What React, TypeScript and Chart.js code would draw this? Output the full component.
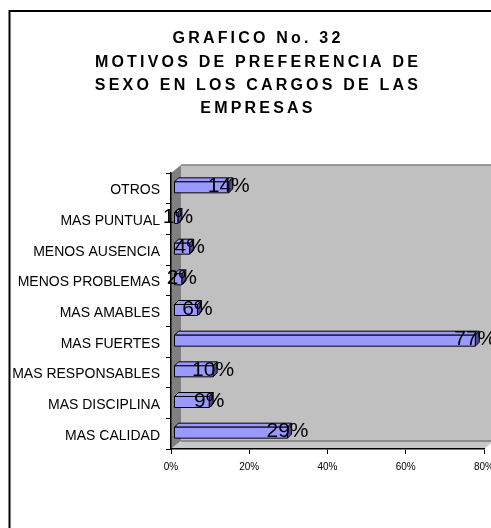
import React, { useEffect, useRef } from 'react';
import { Chart, registerables } from 'chart.js';

Chart.register(...registerables);

const categories = [
  'OTROS',
  'MAS PUNTUAL',
  'MENOS AUSENCIA',
  'MENOS PROBLEMAS',
  'MAS AMABLES',
  'MAS FUERTES',
  'MAS RESPONSABLES',
  'MAS DISCIPLINA',
  'MAS CALIDAD',
];
const percentages = [14, 1, 4, 2, 6, 77, 10, 9, 29];
const titleLines = [
  'GRAFICO No. 32',
  'MOTIVOS DE PREFERENCIA DE',
  'SEXO EN LOS CARGOS DE LAS',
  'EMPRESAS',
];
const xTickValues = [0, 20, 40, 60, 80];

const FONT = '"Liberation Sans", Arial, Helvetica, sans-serif';
const CANVAS_W = 530;
const CANVAS_H = 560;

const backdropPlugin = {
  id: 'backdrop3d',
  beforeDraw(chart: any) {
    const { ctx } = chart;
    const { left: L, right: R, top: T, bottom: B } = chart.chartArea;
    // letter-spaced, slightly shifted title (centred on the whole frame)
    const tb = chart.titleBlock;
    if (tb && !tb.__spaced) {
      const orig = tb.draw.bind(tb);
      tb.draw = function (...args: any[]) {
        const c = tb.ctx;
        c.save();
        c.letterSpacing = '3.2px';
        c.translate(16, 0);
        orig(...args);
        c.restore();
      };
      tb.__spaced = true;
    }
    ctx.save();
    // outer frame
    ctx.strokeStyle = '#000';
    ctx.lineWidth = 2;
    ctx.strokeRect(9.5, 11, 495, 620);
    const dx = 10;
    const dy = -8;
    // back wall
    ctx.fillStyle = '#c0c0c0';
    ctx.fillRect(L + dx, T + dy, R - L, B - T);
    ctx.strokeStyle = '#808080';
    ctx.lineWidth = 1.5;
    ctx.beginPath();
    ctx.moveTo(L + dx, T + dy);
    ctx.lineTo(R + dx, T + dy);
    ctx.stroke();
    // left wall
    ctx.fillStyle = '#808080';
    ctx.beginPath();
    ctx.moveTo(L, T);
    ctx.lineTo(L + dx, T + dy);
    ctx.lineTo(L + dx, B + dy);
    ctx.lineTo(L, B);
    ctx.closePath();
    ctx.fill();
    // floor
    ctx.fillStyle = '#c8c8c8';
    ctx.beginPath();
    ctx.moveTo(L, B);
    ctx.lineTo(L + dx, B + dy);
    ctx.lineTo(R + dx, B + dy);
    ctx.lineTo(R, B);
    ctx.closePath();
    ctx.fill();
    ctx.strokeStyle = '#8c8c8c';
    ctx.lineWidth = 2;
    ctx.beginPath();
    ctx.moveTo(L + dx, B + dy);
    ctx.lineTo(R + dx, B + dy);
    ctx.stroke();
    ctx.strokeStyle = '#e8e8e8';
    ctx.lineWidth = 1;
    ctx.beginPath();
    ctx.moveTo(R, B);
    ctx.lineTo(R + dx, B + dy);
    ctx.stroke();
    ctx.restore();
  },
};

const bars3dPlugin = {
  id: 'bars3d',
  afterDatasetsDraw(chart: any) {
    const { ctx } = chart;
    const meta = chart.getDatasetMeta(0);
    const values = chart.data.datasets[0].data as number[];
    const ox = 3;
    const oy = -1;
    const d = 4;
    ctx.save();
    ctx.lineWidth = 1;
    ctx.strokeStyle = '#000';
    ctx.lineJoin = 'round';
    const poly = (pts: number[][], fill: string) => {
      ctx.beginPath();
      ctx.moveTo(pts[0][0], pts[0][1]);
      for (let k = 1; k < pts.length; k++) ctx.lineTo(pts[k][0], pts[k][1]);
      ctx.closePath();
      ctx.fillStyle = fill;
      ctx.fill();
      ctx.stroke();
    };
    meta.data.forEach((el: any) => {
      const { x, y, base, height } = el.getProps(['x', 'y', 'base', 'height'], true);
      const x0 = base + ox;
      const x1 = x + ox;
      const top = y - height / 2 + oy;
      const bot = y + height / 2 + oy;
      poly([[x0, top], [x1, top], [x1 + d, top - d], [x0 + d, top - d]], '#9999ff');
      poly([[x1, top], [x1 + d, top - d], [x1 + d, bot - d], [x1, bot]], '#4d4d8c');
      poly([[x0, top], [x1, top], [x1, bot], [x0, bot]], '#9999ff');
    });
    ctx.fillStyle = '#000';
    ctx.font = `21px ${FONT}`;
    ctx.textAlign = 'center';
    ctx.textBaseline = 'middle';
    meta.data.forEach((el: any, i: number) => {
      const { x, y } = el.getProps(['x', 'y'], true);
      ctx.fillText(`${values[i]}%`, x + ox, y + oy - 1);
    });
    ctx.restore();
  },
};

export default function App() {
  const canvasRef = useRef<HTMLCanvasElement | null>(null);

  useEffect(() => {
    if (!canvasRef.current) return;
    const chart = new Chart(canvasRef.current, {
      type: 'bar',
      data: {
        labels: categories,
        datasets: [
          {
            data: percentages,
            backgroundColor: 'rgba(0,0,0,0)',
            borderWidth: 0,
            barThickness: 11,
          },
        ],
      },
      options: {
        indexAxis: 'y',
        responsive: false,
        animation: false,
        devicePixelRatio: 1,
        layout: { padding: { left: 0, right: 46, top: 0, bottom: 0 } },
        plugins: {
          legend: { display: false },
          tooltip: { enabled: false },
          title: {
            display: true,
            text: titleLines,
            color: '#000',
            font: { family: FONT, size: 16, weight: 'bold', lineHeight: 23.3 / 16 },
            padding: { top: 27.35, bottom: 52.45 },
          },
        },
        scales: {
          x: {
            type: 'linear',
            position: 'bottom',
            min: 0,
            max: 80,
            afterBuildTicks: (s: any) => {
              s.ticks = xTickValues.map((v) => ({ value: v }));
            },
            ticks: {
              callback: (v: any) => `${v}%`,
              color: '#000',
              font: { family: FONT, size: 10 },
              padding: 7,
            },
            grid: { drawOnChartArea: false, drawTicks: true, tickLength: 5, color: '#000' },
            border: { color: '#000', width: 1.5 },
            afterFit: (s: any) => {
              s.height = 111;
            },
          },
          y: {
            type: 'category',
            ticks: {
              color: '#000',
              font: { family: FONT, size: 14 },
              padding: 6,
              labelOffset: 2,
              autoSkip: false,
            },
            grid: { offset: true, drawOnChartArea: false, drawTicks: true, tickLength: 5, color: '#000' },
            border: { color: '#000', width: 1.5 },
            afterFit: (s: any) => {
              s.width = 171;
            },
          },
        },
      } as any,
      plugins: [backdropPlugin, bars3dPlugin],
    });
    return () => chart.destroy();
  }, []);

  return (
    <div
      style={{
        position: 'fixed',
        left: 0,
        top: 0,
        width: 491,
        height: 528,
        overflow: 'hidden',
        background: '#fff',
      }}
    >
      <canvas
        ref={canvasRef}
        width={CANVAS_W}
        height={CANVAS_H}
        style={{ width: CANVAS_W, height: CANVAS_H, display: 'block' }}
      />
    </div>
  );
}
